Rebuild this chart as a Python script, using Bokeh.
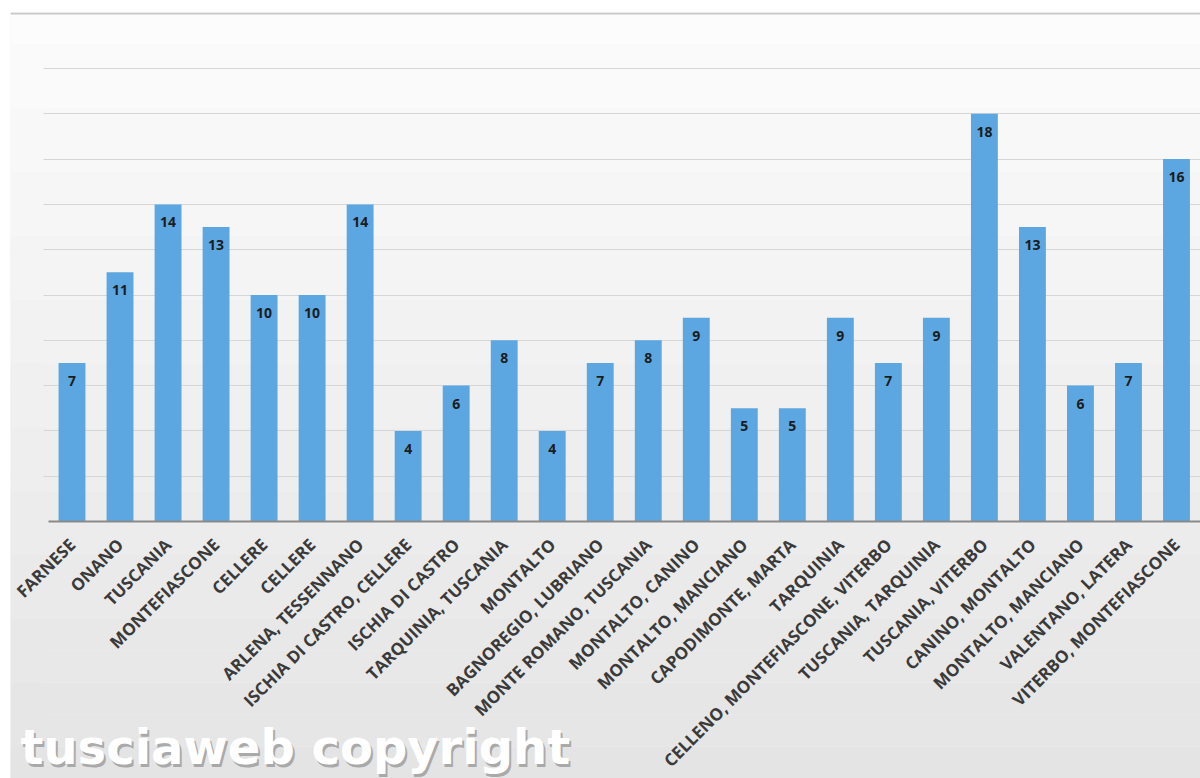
import math
from bokeh.plotting import figure
from bokeh.models import Range1d, FixedTicker, Label, Span, BoxAnnotation
from bokeh.embed import file_html
from bokeh.resources import INLINE
from bokeh.core.properties import value

categories = [
    "FARNESE", "ONANO", "TUSCANIA", "MONTEFIASCONE", "CELLERE", "CELLERE",
    "ARLENA, TESSENNANO", "ISCHIA DI CASTRO, CELLERE", "ISCHIA DI CASTRO",
    "TARQUINIA, TUSCANIA", "MONTALTO", "BAGNOREGIO, LUBRIANO",
    "MONTE ROMANO, TUSCANIA", "MONTALTO, CANINO", "MONTALTO, MANCIANO",
    "CAPODIMONTE, MARTA", "TARQUINIA", "CELLENO, MONTEFIASCONE, VITERBO",
    "TUSCANIA, TARQUINIA", "TUSCANIA, VITERBO", "CANINO, MONTALTO",
    "MONTALTO, MANCIANO", "VALENTANO, LATERA", "VITERBO, MONTEFIASCONE",
]
values = [7, 11, 14, 13, 10, 10, 14, 4, 6, 8, 4, 7, 8, 9, 5, 5, 9, 7, 9, 18, 13, 6, 7, 16]
grid_ticks = [2, 4, 6, 8, 10, 12, 14, 16, 18, 20]
watermark = "tusciaweb copyright"

xs = list(range(len(categories)))
n = len(categories)

# layout constants (pixels)
W, H = 1200, 778
LEFT, TOP = 10, 12
CAT_LEFT = 47.5          # page x where the first category slot begins
SLOT = (W - CAT_LEFT) / n
BASE = 521               # page y of the baseline
PX_PER_UNIT = 22.65

x0 = -0.5 - (CAT_LEFT - LEFT) / SLOT
x1 = n - 0.5 + (W - CAT_LEFT - SLOT * n) / SLOT
y1 = (BASE - TOP) / PX_PER_UNIT
y0 = -(H - BASE) / PX_PER_UNIT

p = figure(
    width=W, height=H,
    x_range=Range1d(x0, x1), y_range=Range1d(y0, y1),
    output_backend="svg", toolbar_location=None,
    min_border_left=LEFT, min_border_right=0, min_border_top=TOP, min_border_bottom=0,
)
p.background_fill_color = "#f4f4f4"
p.border_fill_color = "#ffffff"
p.outline_line_color = None

# soft vertical background gradient (decoration)
nb = 24
top_c, bot_c = 0xfc, 0xe4
for i in range(nb):
    t0 = y1 - (y1 - y0) * i / nb
    t1 = y1 - (y1 - y0) * (i + 1) / nb
    g = round(top_c + (bot_c - top_c) * (i + 0.5) / nb)
    col = "#%02x%02x%02x" % (g, g, g)
    p.add_layout(BoxAnnotation(top=t0, bottom=t1, fill_color=col, fill_alpha=1,
                               line_color=None, level="image"))
    # hide grid lines left of the category area
    p.add_layout(BoxAnnotation(top=t0, bottom=t1, left=x0, right=-0.5 - 4.5 / SLOT,
                               fill_color=col, fill_alpha=1, line_color=None, level="glyph"))

p.vbar(x=xs, top=values, width=0.56, bottom=0, fill_color="#5ca7e2", line_color=None)

p.text(x=xs, y=values, text=[str(v) for v in values],
       text_align="center", text_baseline="middle", y_offset=18,
       text_font=value("Open Sans"), text_font_style="bold",
       text_font_size="14px", text_color="#1c1c1c")

p.xgrid.visible = False
p.ygrid.ticker = FixedTicker(ticks=grid_ticks)
p.ygrid.grid_line_color = "#d6d6d6"
p.ygrid.grid_line_width = 1
p.yaxis.visible = False

ax = p.xaxis[0]
ax.fixed_location = 0
ax.bounds = (-0.5, n - 0.5)
ax.ticker = FixedTicker(ticks=xs)
ax.major_label_overrides = {i: c for i, c in enumerate(categories)}
ax.major_label_orientation = math.pi / 4
ax.major_label_text_font = "Open Sans"
ax.major_label_text_font_style = "bold"
ax.major_label_text_font_size = "17px"
ax.major_label_text_color = "#3a3a3a"
ax.major_label_standoff = 14
ax.major_tick_line_color = None
ax.minor_tick_line_color = None
ax.axis_line_color = "#8a8a8a"
ax.axis_line_width = 2

p.add_layout(Span(location=y1 - 0.9 / PX_PER_UNIT, dimension="width",
                  line_color="#c8c8c8", line_width=2))

wm_x = -0.5 + (20 - CAT_LEFT) / SLOT
wm_y = -(746 - BASE) / PX_PER_UNIT
shadow = Label(x=wm_x, y=wm_y, text=watermark, text_font="DejaVu Sans",
               text_font_style="bold", text_font_size="48px", text_color="#8f8f8f",
               text_alpha=0.7, x_offset=2, y_offset=-3, text_baseline="alphabetic")
wm = Label(x=wm_x, y=wm_y, text=watermark, text_font="DejaVu Sans",
           text_font_style="bold", text_font_size="48px", text_color="#ffffff",
           text_baseline="alphabetic")
p.add_layout(shadow)
p.add_layout(wm)

open("out.html", "w").write(file_html(p, INLINE))
